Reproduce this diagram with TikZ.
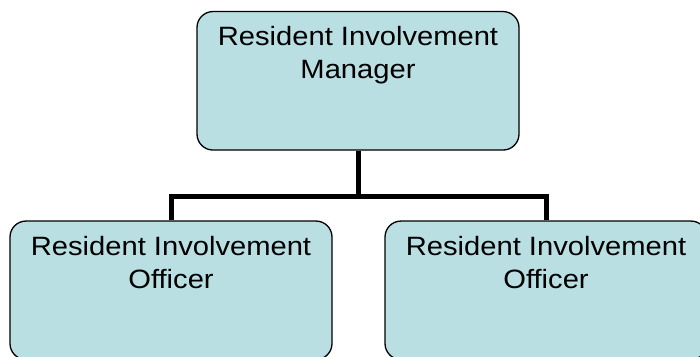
\documentclass[tikz,border=0pt]{standalone}
\usepackage{fontspec}
\setmainfont{Liberation Sans}[FakeStretch=1.1]
\definecolor{boxfill}{HTML}{B9DFE3}
\tikzset{
  orgbox/.style={draw=black, line width=1.3pt, fill=boxfill, rounded corners=16pt,
    minimum width=322pt, minimum height=138.5pt, inner sep=0pt},
  boxtext/.style={anchor=north, align=center, inner sep=0pt,
    font=\fontsize{26.5}{33.5}\selectfont},
  link/.style={draw=black, line width=5pt, line join=miter}
}
\begin{document}
\begin{tikzpicture}[x=1pt,y=1pt]
\useasboundingbox (0,0) rectangle (700,356);
\clip (0,0) rectangle (700,356);
\fill[white] (0,0) rectangle (700,356);
\coordinate (j) at (358,159);
\node[orgbox] (mgr) at (358,275.2) {};
\node[orgbox] (off1) at (171,65.7) {};
\node[orgbox] (off2) at (546,65.7) {};
\draw[link] (mgr.south) -- (j);
\draw[link] (off1.north) |- (j) -| (off2.north);
\node[boxtext] (t0) at ([yshift=-15pt]mgr.north) {Resident Involvement\\Manager};
\node[boxtext] (t1) at ([yshift=-15.5pt]off1.north) {Resident Involvement\\Officer};
\node[boxtext] (t2) at ([yshift=-15.5pt]off2.north) {Resident Involvement\\Officer};
\end{tikzpicture}
\end{document}
